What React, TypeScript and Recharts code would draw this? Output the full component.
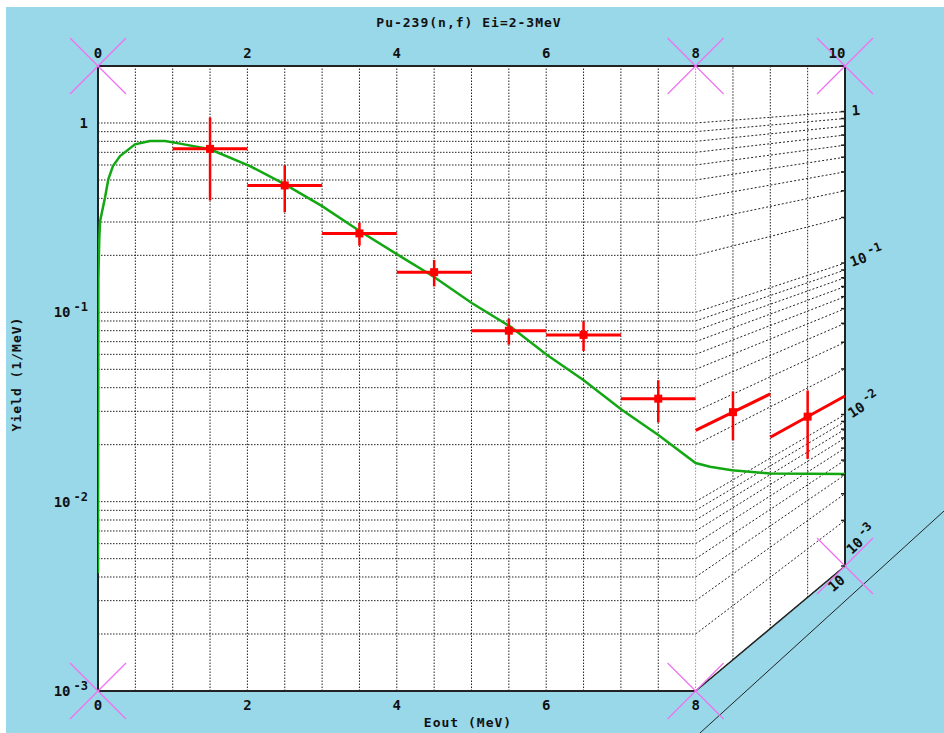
import React from 'react'
import { ComposedChart, XAxis, YAxis, Line, Scatter, ReferenceLine, ReferenceDot } from 'recharts'

const W = 944
const H = 733
// outer box of the plot: 98..845 x 66..691
const margin = { top: 46, right: 59, bottom: 22, left: 68 }
const axisTop = 20
const axisBottom = 20
const axisLeft = 30
const axisRight = 40
const plotW = W - margin.left - margin.right - axisLeft - axisRight
const plotH = H - margin.top - margin.bottom - axisTop - axisBottom

const title = 'Pu-239(n,f) Ei=2-3MeV'
const xLabel = 'Eout (MeV)'
const yLabel = 'Yield (1/MeV)'

// axes
const xMin = 0
const xFront = 8 // front panel stops here, 8-10 MeV is drawn on the receding side panel
const xMax = 10
const yMin = 0.001
const yMax = 2
const farScale = 0.8 // height of the far edge relative to the front one

const topTicks = [0, 2, 4, 6, 8, 10]
const bottomTicks = [0, 2, 4, 6, 8]
const decadeTicks = [0.001, 0.01, 0.1, 1]
const decadeExp = ['-3', '-2', '-1', '']
const minorSteps = [1, 2, 3, 4, 5, 6, 7, 8, 9]
const xGrid = [0.5, 1, 1.5, 2, 2.5, 3, 3.5, 4, 4.5, 5, 5.5, 6, 6.5, 7, 7.5]
const sideGrid = [8.5, 9, 9.5]

// calculation (green curve)
const calcE = [0, 0.005, 0.017, 0.027, 0.094, 0.138, 0.2, 0.295, 0.495, 0.696, 0.897, 1.098, 1.5, 2.035, 2.503, 3.0, 3.507, 4.043, 4.485, 5.003, 5.515, 6.007, 6.493, 7.011, 7.501, 8.0, 8.193, 8.487, 8.996, 9.49, 10]
const calcYield = [0.0042, 0.15, 0.242, 0.302, 0.4045, 0.5036, 0.592, 0.669, 0.771, 0.803, 0.803, 0.778, 0.726, 0.592, 0.474, 0.364, 0.268, 0.198, 0.155, 0.112, 0.0843, 0.0597, 0.0441, 0.0306, 0.0225, 0.016, 0.0139, 0.0114, 0.00815, 0.0059, 0.00405]

// measurement (red crosses)
const expE = [1.5, 2.5, 3.5, 4.5, 5.5, 6.5, 7.5, 8.5, 9.5]
const expLo = [1, 2, 3, 4, 5, 6, 7, 8, 9]
const expHi = [2, 3, 4, 5, 6, 7, 8, 9, 10]
const expYield = [0.73, 0.468, 0.261, 0.163, 0.08, 0.076, 0.035, 0.0238, 0.01325]
const expErr = [0.34, 0.13, 0.036, 0.026, 0.0125, 0.0135, 0.0088, 0.0072, 0.006]

const depth = (x: number) => (x <= xFront ? 1 : 1 - (1 - farScale) * (x - xFront) / (xMax - xFront))
// value as seen on the side panel, expressed on the front log scale
const proj = (x: number, v: number) => yMax * Math.pow(v / yMax, depth(x))

const gridValues: number[] = []
decadeTicks.slice(0, 3).forEach(d => minorSteps.forEach(m => gridValues.push(+(d * m).toPrecision(3))))
gridValues.push(1)
const sideTicks = gridValues.map(v => proj(xMax, v))

const calcData = calcE.map((e, i) => ({ x: e, y: proj(e, calcYield[i]) }))
const expData = expE.map((e, i) => ({ x: e, y: proj(e, expYield[i]) }))

const BLUE = '#99d8e8'
const GRID = '#222'
const FRAME = '#222'
const PINK = '#f070f0'
const RED = '#ff0000'
const GREEN = '#13a813'
const font = { fontFamily: '"DejaVu Sans Mono", monospace', fontWeight: 700, fontSize: 13, fill: '#111' }
const tickFont = { ...font, fontSize: 14 }

const TopTick = ({ x, y, payload }: any) => (
  <text x={payload.value === 10 ? x - 8 : x} y={y - 8} textAnchor="middle" {...tickFont}>{payload.value}</text>
)

const BottomTick = ({ x, y, payload }: any) => (
  <text x={x} y={y + 19} textAnchor="middle" {...tickFont}>{payload.value}</text>
)

const Power = ({ i }: { i: number }) =>
  decadeExp[i] ? <><tspan>10</tspan><tspan dx={3} dy={-6} fontSize={12}>{decadeExp[i]}</tspan></> : <tspan>1</tspan>

const LeftTick = ({ x, y, payload }: any) => {
  const i = decadeTicks.findIndex(d => Math.abs(d - payload.value) < d * 0.01)
  if (i < 0) return null
  return (
    <text x={x - 10} y={y + 5} textAnchor="end" {...tickFont}>
      <Power i={i} />
    </text>
  )
}

const RightTick = ({ x, y, payload }: any) => {
  const idx = sideTicks.findIndex(t => Math.abs(t - payload.value) < t * 0.001)
  if (idx < 0) return null
  const v = gridValues[idx]
  const i = decadeTicks.findIndex(d => Math.abs(d - v) < d * 0.01)
  const drop = plotH * Math.log(yMax / v) / Math.log(yMax / yMin)
  const deg = (Math.atan2((1 - farScale) * drop, plotW * (xMax - xFront) / (xMax - xMin)) * 180) / Math.PI
  const sx = x + 7
  const sy = v === yMin ? y - 11 : y + 4
  return (
    <g>
      <line x1={x} x2={x - 4} y1={y} y2={y} stroke={FRAME} strokeWidth={1.5} />
      {i >= 0 && (
        <text x={sx} y={sy} transform={`rotate(${-deg * 1.1}, ${sx}, ${sy})`} {...tickFont}>
          <Power i={i} />
        </text>
      )}
    </g>
  )
}

const Cross = ({ cx, cy, label }: any) => (
  <g>
    <line x1={cx - 28} y1={cy - 28} x2={cx + 28} y2={cy + 28} stroke={PINK} strokeWidth={1.2} />
    <line x1={cx - 28} y1={cy + 28} x2={cx + 28} y2={cy - 28} stroke={PINK} strokeWidth={1.2} />
    {label && (
      <text x={cx - 8} y={cy + 22} textAnchor="middle" transform={`rotate(-40, ${cx - 8}, ${cy + 18})`} {...tickFont}>{label}</text>
    )}
  </g>
)

const Marker = ({ cx, cy }: any) => <rect x={cx - 4} y={cy - 4} width={8} height={8} fill={RED} />

export default function App() {
  const seg = (x1: number, y1: number, x2: number, y2: number) => [{ x: x1, y: y1 }, { x: x2, y: y2 }]
  const bottomFar = proj(xMax, yMin)
  const L = margin.left + axisLeft
  const T = margin.top + axisTop
  const R = L + plotW
  const B = T + plotH

  return (
    <div style={{ position: 'absolute', left: 0, top: 0, width: W, height: H, background: '#fff' }}>
      <div style={{ position: 'absolute', left: 6, top: 7, right: 0, bottom: 0, background: BLUE }} />
      <svg width={W} height={H} style={{ position: 'absolute', left: 0, top: 0 }}>
        <polygon points={`${L},${T} ${R},${T} ${R},${T + plotH * farScale} ${L + plotW * 0.8},${B} ${L},${B}`} fill="#fff" />
        <line x1={700} y1={733} x2={944} y2={511} stroke={FRAME} strokeWidth={1} />
        <text x={469} y={27} textAnchor="middle" {...font} letterSpacing={1}>{title}</text>
        <text x={468} y={727} textAnchor="middle" {...font} letterSpacing={1}>{xLabel}</text>
        <text x={21} y={374} textAnchor="middle" transform="rotate(-90, 21, 374)" {...font} letterSpacing={1}>{yLabel}</text>
      </svg>
      <div style={{ position: 'absolute', left: 0, top: 0 }}>
        <ComposedChart width={W} height={H} margin={margin}>
          <XAxis type="number" dataKey="x" domain={[xMin, xMax]} ticks={bottomTicks} height={axisBottom} axisLine={false} tickLine={false} tickSize={0} tickMargin={0} tick={<BottomTick />} interval={0} allowDataOverflow />
          <XAxis xAxisId="top" orientation="top" type="number" dataKey="x" domain={[xMin, xMax]} ticks={topTicks} height={axisTop} axisLine={false} tickLine={false} tickSize={0} tickMargin={0} tick={<TopTick />} interval={0} allowDataOverflow />
          <YAxis type="number" dataKey="y" scale="log" domain={[yMin, yMax]} ticks={decadeTicks} width={axisLeft} axisLine={false} tickLine={false} tickSize={0} tickMargin={0} tick={<LeftTick />} interval={0} allowDataOverflow />
          <YAxis yAxisId="right" orientation="right" type="number" scale="log" domain={[yMin, yMax]} ticks={sideTicks} width={axisRight} axisLine={false} tickLine={false} tickSize={0} tickMargin={0} tick={<RightTick />} interval={0} allowDataOverflow />

          {gridValues.map(v => (
            <ReferenceLine key={'h' + v} segment={seg(xMin, v, xFront, v)} stroke={GRID} strokeDasharray="1.5 1.5" ifOverflow="visible" />
          ))}
          {gridValues.map(v => (
            <ReferenceLine key={'s' + v} segment={seg(xFront, v, xMax, proj(xMax, v))} stroke={GRID} strokeDasharray="2 2" ifOverflow="visible" />
          ))}
          {xGrid.map(x => (
            <ReferenceLine key={'v' + x} segment={seg(x, yMin, x, yMax)} stroke={GRID} strokeDasharray="1.5 1.5" ifOverflow="visible" />
          ))}
          {sideGrid.map(x => (
            <ReferenceLine key={'sv' + x} segment={seg(x, proj(x, yMin), x, yMax)} stroke={GRID} strokeDasharray="1.5 1.5" ifOverflow="visible" />
          ))}
          <ReferenceLine segment={seg(xFront, yMin, xFront, yMax)} stroke="#c77ad0" strokeDasharray="1.5 1.5" ifOverflow="visible" />

          <ReferenceLine segment={seg(xMin, yMax, xMax, yMax)} stroke={FRAME} strokeWidth={2} ifOverflow="visible" />
          <ReferenceLine segment={seg(xMin, yMin, xMin, yMax)} stroke={FRAME} strokeWidth={2} ifOverflow="visible" />
          <ReferenceLine segment={seg(xMin, yMin, xFront, yMin)} stroke={FRAME} strokeWidth={2} ifOverflow="visible" />
          <ReferenceLine segment={seg(xMax, bottomFar, xMax, yMax)} stroke={FRAME} strokeWidth={2} ifOverflow="visible" />
          <ReferenceLine segment={seg(xFront, yMin, xMax, bottomFar)} stroke={FRAME} strokeWidth={1.5} ifOverflow="visible" />

          <Line data={calcData} dataKey="y" type="linear" stroke={GREEN} strokeWidth={2.5} dot={false} isAnimationActive={false} />

          {expE.map((e, i) => (
            <ReferenceLine key={'eh' + i} segment={seg(expLo[i], proj(expLo[i], expYield[i]), expHi[i], proj(expHi[i], expYield[i]))} stroke={RED} strokeWidth={3} ifOverflow="visible" />
          ))}
          {expE.map((e, i) => (
            <ReferenceLine key={'ev' + i} segment={seg(e, proj(e, expYield[i] - expErr[i]), e, proj(e, expYield[i] + expErr[i]))} stroke={RED} strokeWidth={2.5} ifOverflow="visible" />
          ))}
          <Scatter data={expData} dataKey="y" shape={<Marker />} isAnimationActive={false} />

          <ReferenceDot x={xMin} y={yMax} r={0} shape={<Cross />} ifOverflow="visible" />
          <ReferenceDot x={xFront} y={yMax} r={0} shape={<Cross />} ifOverflow="visible" />
          <ReferenceDot x={xMax} y={yMax} r={0} shape={<Cross />} ifOverflow="visible" />
          <ReferenceDot x={xMin} y={yMin} r={0} shape={<Cross />} ifOverflow="visible" />
          <ReferenceDot x={xFront} y={yMin} r={0} shape={<Cross />} ifOverflow="visible" />
          <ReferenceDot x={xMax} y={bottomFar} r={0} shape={<Cross label="10" />} ifOverflow="visible" />
        </ComposedChart>
      </div>
    </div>
  )
}
